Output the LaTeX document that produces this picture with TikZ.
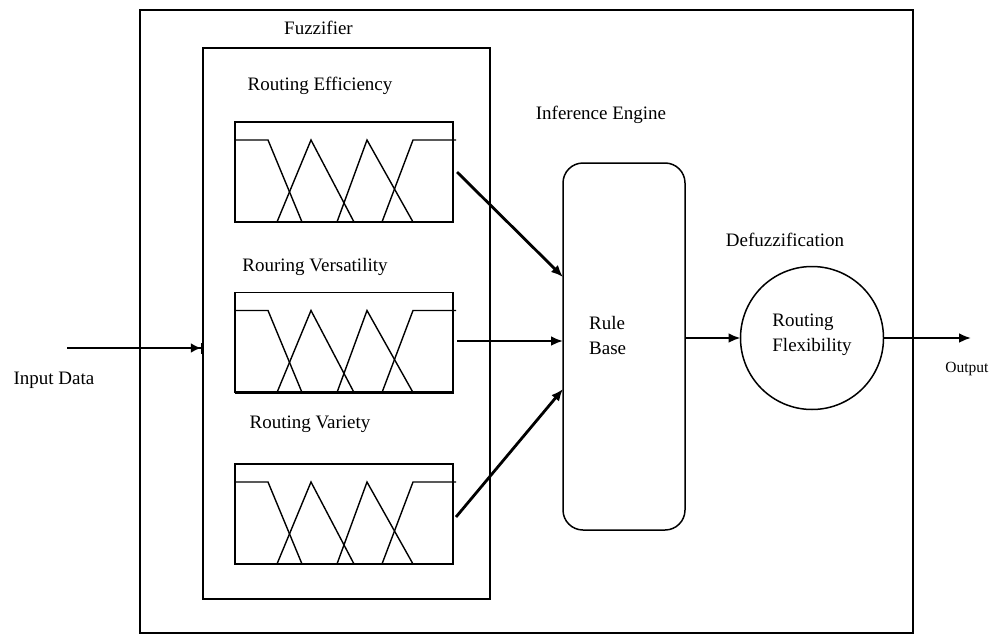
\documentclass[tikz,border=0pt]{standalone}
\usepackage{fontspec}
\setmainfont{Liberation Serif}
\usetikzlibrary{arrows.meta,calc}
\tikzset{
  frame/.style={draw, line width=1.6pt, inner sep=0pt, outer sep=0pt},
  mfbox/.style={draw, line width=1.8pt, minimum width=218pt, minimum height=100pt, inner sep=0pt, outer sep=0pt},
  mfline/.style={line width=1.4pt},
  lbl/.style={font=\fontsize{19}{25}\selectfont, inner sep=0pt},
  flow/.style={line width=2.8pt, -{Latex[length=12pt,width=10pt]}},
}
\newcommand\mfcurves[1]{%
  \begin{scope}[shift={(#1.north west)}]
    \draw[mfline] (0,18) -- (33,18) -- (67,100);
    \draw[mfline] (42,100) -- (76,18) -- (119,100);
    \draw[mfline] (102,100) -- (132,18) -- (178,100);
    \draw[mfline] (147,100) -- (178,18) -- (221,18);
  \end{scope}
  \draw[line width=2.8pt] (#1.north east) -- (#1.south east) -- (#1.south west);
}
\begin{document}
\begin{tikzpicture}[x=1pt,y=-1pt]
  \useasboundingbox (0,0) rectangle (1003,634);
  % frames
  \node[frame, minimum width=773pt, minimum height=623pt] (outer) at (526.5,321.5) {};
  \node[frame, minimum width=287pt, minimum height=551pt] (fz) at (346.5,323.5) {};
  % membership function boxes
  \node[mfbox] (mf1) at (344,172) {};
  \node[mfbox] (mf2) at (344,342.5) {};
  \node[mfbox] (mf3) at (344,514) {};
  \mfcurves{mf1}
  \mfcurves{mf2}
  \mfcurves{mf3}
  % rule base and defuzzifier
  \node[draw, rounded corners=20pt, line width=1.5pt, minimum width=122pt, minimum height=367pt, inner sep=0pt, outer sep=0pt] (rb) at (624,346.5) {};
  \node[lbl, align=left, anchor=west] (rbt) at (589,335) {Rule\\Base};
  \node[draw, circle, minimum size=143pt, line width=1.5pt, inner sep=0pt, outer sep=0pt] (df) at (812,338) {};
  \node[lbl, align=left] (dft) at (812,335) {Routing\\Flexibility};
  % labels
  \node[lbl] (lfz) at (318.5,28) {Fuzzifier};
  \node[lbl] (l1) at (320,86) {Routing Efficiency};
  \node[lbl] (l2) at (315,267) {Rouring Versatility};
  \node[lbl] (l3) at (310,424) {Routing Variety};
  \node[lbl] (lie) at (601,115) {Inference Engine};
  \node[lbl] (ldf) at (785,240) {Defuzzification};
  \node[lbl] (lin) at (54,380) {Input Data};
  \node[lbl, font=\fontsize{15.5}{18}\selectfont] (lout) at (967,369) {Output};
  % connectors
  \coordinate (inp) at (67,348);
  \coordinate (outp) at (971,338);
  \draw[line width=2.8pt, -{Latex[length=10pt,width=10pt]Bar[width=11pt,line width=2.2pt]}] (inp) -- (inp -| fz.west);
  \draw[flow] ([xshift=4pt]mf1.east) -- ([yshift=69.5pt]rb.west);
  \draw[flow] ([xshift=4pt,yshift=1.5pt]mf2.east) -- ([yshift=5.5pt]rb.west);
  \draw[flow] ([xshift=3pt,yshift=-3pt]mf3.east) -- ([yshift=-42.5pt]rb.west);
  \draw[flow] (rb.east |- df.west) -- (df.west);
  \draw[flow] (df.east) -- (outp);
\end{tikzpicture}
\end{document}
